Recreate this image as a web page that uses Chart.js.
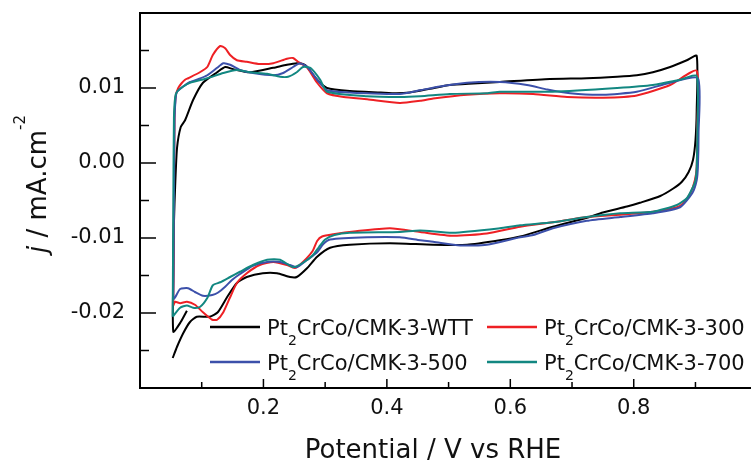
<!DOCTYPE html>
<html>
<head>
<meta charset="utf-8">
<script src="https://cdn.jsdelivr.net/npm/chart.js@4.4.0/dist/chart.umd.min.js"></script>
<style>
html,body{margin:0;padding:0;background:#fff;}
</style>
</head>
<body>
<canvas id="cv" width="751" height="470"></canvas>
<script>
// potential (V vs RHE) and current density (mA.cm-2), one loop per sample
const wttE = [0.076,0.066,0.054,0.054,0.055,0.057,0.060,0.066,0.073,0.086,0.102,0.125,0.138,0.151,0.178,0.216,0.238,0.254,0.264,0.271,0.287,0.303,0.340,0.390,0.415,0.437,0.470,0.502,0.540,0.583,0.664,0.724,0.773,0.805,0.831,0.859,0.886,0.902,
  0.902,0.900,0.896,0.889,0.878,0.864,0.843,0.810,0.789,0.750,0.724,0.669,0.616,0.583,0.530,0.475,0.405,0.340,0.308,0.287,0.271,0.254,0.243,0.222,0.199,0.173,0.157,0.141,0.126,0.113,0.092,0.081,0.070,0.060,0.053];
const wttJ = [-0.0197,-0.0212,-0.0225,-0.0150,-0.0080,-0.0030,0.0020,0.0048,0.0057,0.0084,0.0107,0.0121,0.0128,0.0125,0.0121,0.0127,0.0131,0.0133,0.0132,0.0128,0.0111,0.0100,0.0096,0.0094,0.0093,0.0094,0.0099,0.0104,0.0106,0.0108,0.0112,0.0113,0.0115,0.0117,0.0121,0.0128,0.0137,0.0143,
  0.0070,0.0030,0.0004,-0.0012,-0.0025,-0.0034,-0.0044,-0.0053,-0.0058,-0.0066,-0.0073,-0.0085,-0.0098,-0.0103,-0.0109,-0.0109,-0.0107,-0.0109,-0.0113,-0.0125,-0.0140,-0.0152,-0.0152,-0.0147,-0.0147,-0.0152,-0.0160,-0.0179,-0.0199,-0.0205,-0.0205,-0.0212,-0.0227,-0.0245,-0.0260];

const t300E = [0.054,0.055,0.056,0.058,0.062,0.067,0.073,0.078,0.097,0.109,0.118,0.130,0.138,0.146,0.157,0.173,0.194,0.216,0.238,0.248,0.256,0.271,0.287,0.303,0.330,0.368,0.421,0.454,0.475,0.530,0.583,0.637,0.692,0.750,0.805,0.859,0.902,
  0.903,0.902,0.899,0.892,0.880,0.870,0.831,0.778,0.724,0.669,0.616,0.562,0.507,0.454,0.405,0.350,0.313,0.295,0.287,0.280,0.264,0.251,0.238,0.216,0.194,0.173,0.157,0.146,0.135,0.125,0.117,0.102,0.089,0.076,0.065,0.057,0.054];
const t300J = [-0.0186,-0.0050,0.0060,0.0090,0.0100,0.0106,0.0111,0.0113,0.0121,0.0128,0.0144,0.0156,0.0153,0.0144,0.0137,0.0135,0.0132,0.0133,0.0139,0.0140,0.0135,0.0127,0.0107,0.0093,0.0088,0.0085,0.0080,0.0083,0.0086,0.0091,0.0093,0.0092,0.0088,0.0087,0.0090,0.0104,0.0123,
  0.0050,-0.0005,-0.0023,-0.0040,-0.0054,-0.0059,-0.0065,-0.0069,-0.0072,-0.0079,-0.0085,-0.0094,-0.0097,-0.0092,-0.0087,-0.0091,-0.0095,-0.0098,-0.0104,-0.0117,-0.0132,-0.0140,-0.0136,-0.0132,-0.0136,-0.0147,-0.0160,-0.0179,-0.0199,-0.0209,-0.0209,-0.0199,-0.0189,-0.0185,-0.0187,-0.0185,-0.0190];

const t500E = [0.054,0.055,0.056,0.058,0.060,0.070,0.081,0.095,0.109,0.125,0.135,0.146,0.162,0.183,0.216,0.232,0.248,0.259,0.271,0.287,0.303,0.340,0.368,0.421,0.454,0.486,0.530,0.583,0.627,0.660,0.697,0.750,0.805,0.859,0.904,
  0.905,0.904,0.902,0.895,0.875,0.831,0.778,0.724,0.669,0.637,0.616,0.562,0.519,0.475,0.454,0.421,0.368,0.308,0.297,0.287,0.271,0.254,0.243,0.227,0.206,0.183,0.162,0.149,0.138,0.126,0.117,0.102,0.089,0.078,0.065,0.057,0.054];
const t500J = [-0.0182,-0.0050,0.0060,0.0088,0.0095,0.0102,0.0108,0.0112,0.0117,0.0127,0.0133,0.0131,0.0124,0.0120,0.0117,0.0120,0.0128,0.0133,0.0128,0.0111,0.0097,0.0094,0.0093,0.0092,0.0097,0.0102,0.0107,0.0108,0.0104,0.0098,0.0093,0.0091,0.0095,0.0107,0.0113,
  0.0040,-0.0005,-0.0023,-0.0040,-0.0059,-0.0067,-0.0072,-0.0077,-0.0087,-0.0096,-0.0099,-0.0109,-0.0110,-0.0105,-0.0103,-0.0099,-0.0099,-0.0102,-0.0108,-0.0119,-0.0129,-0.0139,-0.0136,-0.0132,-0.0132,-0.0137,-0.0148,-0.0156,-0.0165,-0.0173,-0.0176,-0.0177,-0.0172,-0.0167,-0.0168,-0.0179,-0.0182];

const t700E = [0.053,0.054,0.055,0.057,0.060,0.070,0.081,0.109,0.135,0.157,0.178,0.206,0.227,0.240,0.254,0.264,0.276,0.292,0.303,0.368,0.421,0.454,0.502,0.562,0.583,0.669,0.773,0.831,0.875,0.902,
  0.903,0.902,0.900,0.896,0.886,0.870,0.831,0.778,0.724,0.669,0.616,0.583,0.507,0.454,0.421,0.340,0.315,0.300,0.290,0.280,0.264,0.248,0.227,0.206,0.183,0.162,0.146,0.130,0.118,0.109,0.097,0.086,0.076,0.065,0.053];
const t700J = [-0.0205,-0.0050,0.0060,0.0088,0.0095,0.0102,0.0107,0.0113,0.0120,0.0124,0.0121,0.0119,0.0115,0.0115,0.0121,0.0128,0.0127,0.0111,0.0095,0.0089,0.0088,0.0089,0.0092,0.0093,0.0095,0.0095,0.0100,0.0104,0.0111,0.0116,
  0.0040,-0.0005,-0.0023,-0.0032,-0.0047,-0.0056,-0.0065,-0.0067,-0.0072,-0.0079,-0.0083,-0.0087,-0.0093,-0.0090,-0.0092,-0.0093,-0.0096,-0.0102,-0.0112,-0.0123,-0.0133,-0.0139,-0.0129,-0.0129,-0.0136,-0.0145,-0.0152,-0.0159,-0.0163,-0.0180,-0.0192,-0.0193,-0.0190,-0.0193,-0.0205];

const seriesNames = ["WTT","300","500","700"];
const seriesColors = ["#000000","#ee2024","#3c50aa","#128781"];

const xTicks = [0.2,0.4,0.6,0.8];
const xMinor = [0.1,0.3,0.5,0.7,0.9];
const yTicks = [-0.02,-0.01,0,0.01];
const yMinor = [-0.025,-0.015,-0.005,0.005,0.015];

const FONT = '"DejaVu Sans", sans-serif';

function pts(E,J){
return E.map((e,i)=>({x:e,y:J[i]}));
}

const loops = [[wttE,wttJ],[t300E,t300J],[t500E,t500J],[t700E,t700J]];

/* frame, inward ticks, axis titles, legend */
const decor = {
id:"decor",
afterDraw(chart){
const ctx = chart.ctx;
const a = chart.chartArea;
const x = chart.scales.x;
const y = chart.scales.y;
ctx.save();
ctx.strokeStyle = "#000";
ctx.lineWidth = 2;
ctx.beginPath();
ctx.moveTo(a.left-1,a.top);
ctx.lineTo(a.right,a.top);
ctx.stroke();

ctx.lineWidth = 1.5;
ctx.beginPath();
xTicks.forEach(v=>{const p=x.getPixelForValue(v);ctx.moveTo(p,a.bottom);ctx.lineTo(p,a.bottom-9);});
xMinor.forEach(v=>{const p=x.getPixelForValue(v);ctx.moveTo(p,a.bottom);ctx.lineTo(p,a.bottom-6);});
yTicks.forEach(v=>{const p=y.getPixelForValue(v);ctx.moveTo(a.left,p);ctx.lineTo(a.left+16,p);});
yMinor.forEach(v=>{const p=y.getPixelForValue(v);ctx.moveTo(a.left,p);ctx.lineTo(a.left+9,p);});
ctx.stroke();

ctx.fillStyle = "#111";
ctx.textBaseline = "alphabetic";
ctx.textAlign = "center";
ctx.font = "26px " + FONT;
ctx.fillText("Potential / V vs RHE",433,458);

// y title: j / mA.cm-2
ctx.save();
ctx.translate(46,184);
ctx.rotate(-Math.PI/2);
ctx.textAlign = "left";
ctx.font = "italic 26px " + FONT;
const wj = ctx.measureText("j").width;
ctx.font = "26px " + FONT;
const wm = ctx.measureText(" / mA.cm").width;
ctx.font = "15px " + FONT;
const ws = ctx.measureText("-2").width;
let s = -(wj+wm+ws)/2;
ctx.font = "italic 26px " + FONT;
ctx.fillText("j",s,0);
ctx.font = "26px " + FONT;
ctx.fillText(" / mA.cm",s+wj,0);
ctx.font = "15px " + FONT;
ctx.fillText("-2",s+wj+wm,-21);
ctx.restore();

// legend, two rows of two
const cols = [210,487];
const rows = [327,362];
ctx.textAlign = "left";
seriesNames.forEach((name,i)=>{
const lx = cols[i%2];
const ly = rows[Math.floor(i/2)];
ctx.strokeStyle = seriesColors[i];
ctx.lineWidth = 2.5;
ctx.beginPath();
ctx.moveTo(lx,ly);
ctx.lineTo(lx+50,ly);
ctx.stroke();
let tx = lx+57;
const by = ly+8;
ctx.fillStyle = "#111";
ctx.font = "21px " + FONT;
ctx.fillText("Pt",tx,by);
tx += ctx.measureText("Pt").width;
ctx.font = "14px " + FONT;
ctx.fillText("2",tx,by+10);
tx += ctx.measureText("2").width;
ctx.font = "21px " + FONT;
ctx.fillText("CrCo/CMK-3-"+name,tx,by);
});
ctx.restore();
}
};

new Chart(
document.getElementById("cv"),
{
type:"line",
data:{
datasets: loops.map((l,i)=>({
label:"Pt2CrCo/CMK-3-"+seriesNames[i],
data:pts(l[0],l[1]),
borderColor:seriesColors[i],
borderWidth:2,
pointRadius:0,
tension:0.2,
fill:false,
order:3-i
}))
},
options:{
responsive:false,
animation:false,
devicePixelRatio:1,
layout:{padding:{top:13,right:0,left:0,bottom:0}},
plugins:{legend:{display:false},tooltip:{enabled:false}},
scales:{
x:{
type:"linear",
min:0,
max:0.99,
grid:{display:false,drawTicks:false},
border:{display:true,color:"#000",width:2},
afterBuildTicks:(s)=>{s.ticks = xTicks.map(v=>({value:v}));},
afterFit:(s)=>{s.height = 82;s.paddingLeft = 0;s.paddingRight = 0;},
ticks:{
padding:8,
color:"#111",
font:{family:"DejaVu Sans",size:21},
callback:(v)=>Number(v).toFixed(1)
}
},
y:{
type:"linear",
min:-0.03,
max:0.02,
grid:{display:false,drawTicks:false},
border:{display:true,color:"#000",width:2},
afterBuildTicks:(s)=>{s.ticks = yTicks.map(v=>({value:v}));},
afterFit:(s)=>{s.width = 140;s.paddingTop = 0;s.paddingBottom = 0;},
ticks:{
padding:15,
color:"#111",
font:{family:"DejaVu Sans",size:21},
callback:(v)=>Number(v).toFixed(2)
}
}
}
},
plugins:[decor]
}
);
</script>
</body>
</html>
